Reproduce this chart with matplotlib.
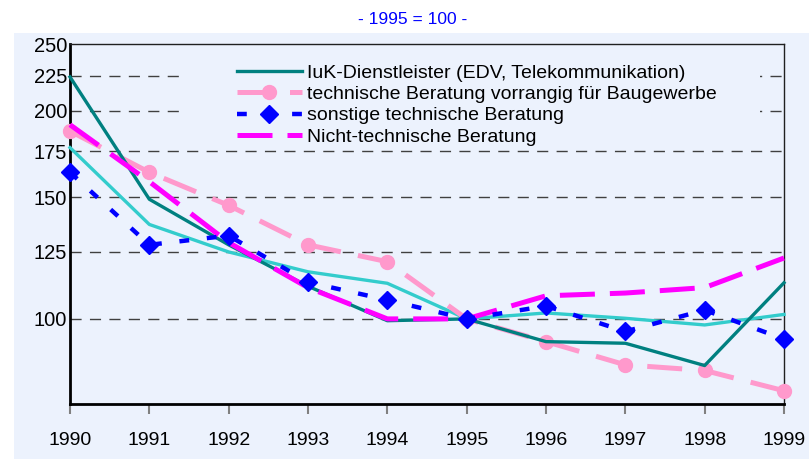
import matplotlib
matplotlib.use("Agg")
import matplotlib.pyplot as plt
from matplotlib.patches import Rectangle
from matplotlib.ticker import FixedLocator, NullLocator

years = [1990, 1991, 1992, 1993, 1994, 1995, 1996, 1997, 1998, 1999]
iuk = [224, 149, 128, 111.5, 99.4, 100, 92.7, 92.2, 85.6, 112.8]
tech_bau = [187, 163, 146, 128, 121, 100, 92.7, 85.8, 84.2, 78.7]
sonstige = [163, 128, 132, 113, 106.5, 100, 104.4, 95.9, 103, 93.5]
nicht_tech = [191, 158, 129, 111, 100, 100, 108, 109, 111, 122.5]
gesamt = [177, 137, 125, 117, 112.6, 100, 102, 100.2, 98, 101.5]

labels = ["IuK-Dienstleister (EDV, Telekommunikation)",
          "technische Beratung vorrangig für Baugewerbe",
          "sonstige technische Beratung",
          "Nicht-technische Beratung"]
yticks = [100, 125, 150, 175, 200, 225, 250]
title = "- 1995 = 100 -"

BG = "#ECF2FD"
plt.rcParams['font.family'] = ['Liberation Sans', 'DejaVu Sans']

fig = plt.figure(figsize=(8.09, 4.59), dpi=100)
fig.patches.append(Rectangle((14/809, 0), 1, (459-33)/459, transform=fig.transFigure,
                             facecolor=BG, edgecolor='none', zorder=-10))
ax = fig.add_axes([70/809, (459-404)/459, (784-70)/809, (404-44)/459])
ax.set_facecolor(BG)
ax.set_yscale('log')
ax.set_ylim(75.3, 250)
ax.set_xlim(1990, 1999)

for v in yticks[:-1]:
    ax.axhline(v, color='#404040', lw=1.0, dashes=(8, 6), zorder=1)

# legend background area covering the grid lines
ax.add_patch(Rectangle((185/809, 1-146/459), (760-185)/809, (146-52)/459,
                       transform=fig.transFigure, facecolor=BG, edgecolor='none', zorder=2))

l_gesamt, = ax.plot(years, gesamt, color='#33CCCC', lw=2.4, zorder=3, clip_on=False)
l_iuk, = ax.plot(years, iuk, color='#008080', lw=2.4, zorder=4, clip_on=False)
l_bau, = ax.plot(years, tech_bau, color='#FF99CC', lw=3.6, dashes=(7, 3.5),
                 marker='o', markersize=10, zorder=3, clip_on=False)
l_son, = ax.plot(years, sonstige, color='#0000FF', lw=3.2, dashes=(2.2, 4),
                 marker='D', markersize=9, zorder=5, clip_on=False)
l_nt, = ax.plot(years, nicht_tech, color='#FF00FF', lw=3.6, dashes=(7, 3),
                zorder=4, clip_on=False)

ax.yaxis.set_major_locator(FixedLocator(yticks))
ax.yaxis.set_minor_locator(NullLocator())
ax.set_yticklabels([str(v) for v in yticks])
ax.set_xticks(years)
ax.set_xticklabels([str(y) for y in years])
ax.tick_params(axis='y', length=0, pad=2, labelsize=14.5)
ax.tick_params(axis='x', length=7, width=1.5, color='#808080', direction='out', pad=13, labelsize=14)

for s in ['left', 'bottom']:
    ax.spines[s].set_linewidth(2)
    ax.spines[s].set_color('black')
for s in ['top', 'right']:
    ax.spines[s].set_linewidth(1)
    ax.spines[s].set_color('#202020')

leg = ax.legend([l_iuk, l_bau, l_son, l_nt], labels, loc='upper left',
                bbox_to_anchor=(233/809, 1-60/459), bbox_transform=fig.transFigure,
                frameon=False, fontsize=14, handlelength=3.35, handletextpad=0.25,
                labelspacing=0.2, borderpad=0.2, borderaxespad=0)
leg.set_zorder(6)

fig.text(413/809, 1-20/459, title, color='#0000FF', fontsize=12.5, ha='center', va='center')

fig.savefig("out.png", dpi=100)
